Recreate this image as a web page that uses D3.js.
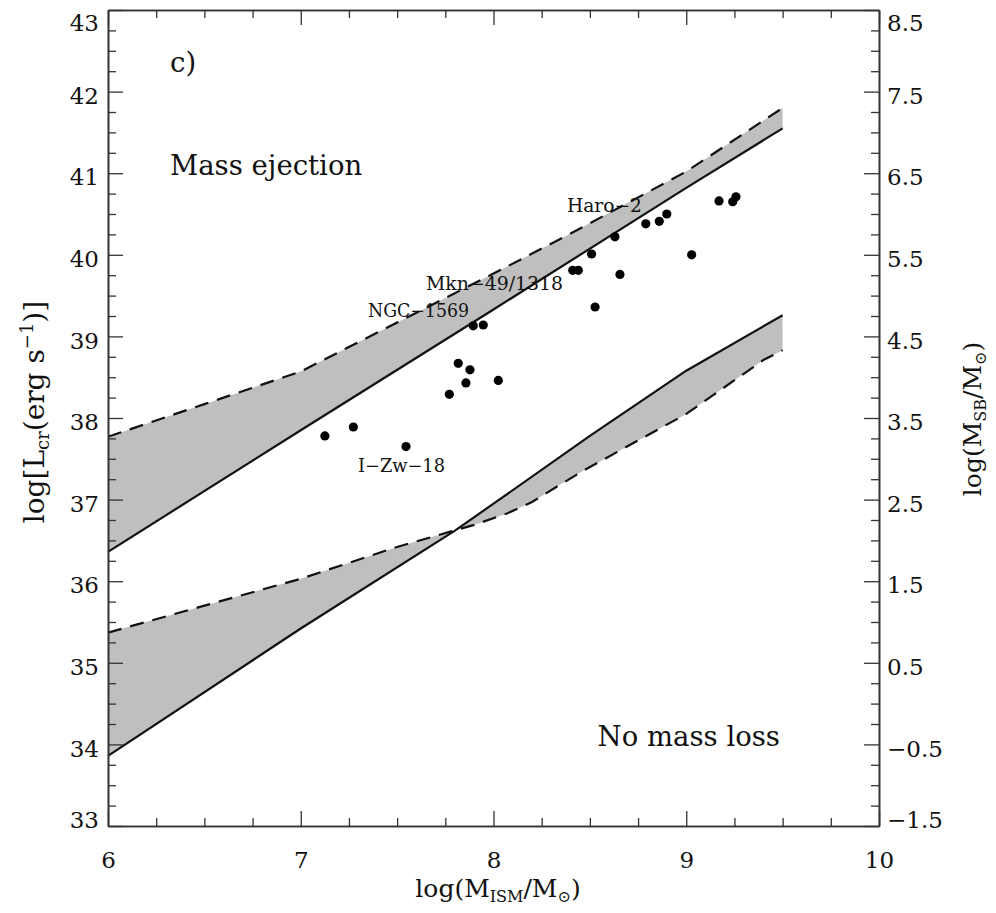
<!DOCTYPE html>
<html><head><meta charset="utf-8">
<script src="https://cdn.jsdelivr.net/npm/d3@7"></script>
<style>
body{margin:0;background:#fff;}
svg{display:block;}
text{font-family:"DejaVu Serif",serif;fill:#111;}
</style></head><body>
<svg id="chart" width="996" height="913"></svg>
<script>
// ---------- data ----------
const xTicks = [6, 7, 8, 9, 10];
const yTicks = [33, 34, 35, 36, 37, 38, 39, 40, 41, 42, 43];
const yRightTicks = [-1.5, -0.5, 0.5, 1.5, 2.5, 3.5, 4.5, 5.5, 6.5, 7.5, 8.5];

const upperSolidX = [6, 7, 8, 9, 9.5];
const upperSolidY = [36.36, 37.85, 39.33, 40.82, 41.55];
const upperDashX = [6, 6.5, 7, 7.5, 8, 8.4, 9, 9.5];
const upperDashY = [37.77, 38.17, 38.57, 39.17, 39.77, 40.26, 41.02, 41.8];
const lowerSolidX = [6, 7, 7.8, 8, 8.5, 9, 9.5];
const lowerSolidY = [33.86, 35.42, 36.62, 36.95, 37.78, 38.58, 39.26];
const lowerDashX = [6, 6.5, 7, 7.5, 7.78, 7.9, 8.07, 8.2, 8.33, 8.47, 9, 9.4, 9.5];
const lowerDashY = [35.37, 35.70, 36.03, 36.42, 36.61, 36.69, 36.83, 36.97, 37.16, 37.36, 38.05, 38.71, 38.83];

const galaxyX = [7.125, 7.273, 7.546, 7.771, 7.817, 7.857, 7.878, 7.895, 7.947, 8.025, 8.411, 8.44, 8.509, 8.527, 8.63, 8.656, 8.79, 8.86, 8.899, 9.028, 9.17, 9.241, 9.258];
const galaxyY = [37.78, 37.89, 37.65, 38.29, 38.67, 38.43, 38.59, 39.13, 39.14, 38.46, 39.81, 39.81, 40.01, 39.36, 40.22, 39.76, 40.38, 40.41, 40.50, 40.00, 40.66, 40.65, 40.71];

const labelText = ["Haro\u22122", "Mkn\u221249/1318", "NGC\u22121569", "I\u2212Zw\u221218"];
const labelX = [8.381, 7.65, 7.349, 7.297];
const labelY = [40.525, 39.569, 39.238, 37.338];

const noteText = ["c)", "Mass ejection", "No mass loss"];
const noteX = [6.322, 6.322, 8.54];
const noteY = [42.24, 40.978, 33.98];

// ---------- chart ----------
const svg = d3.select("#chart");
const x = d3.scaleLinear().domain([6, 10]).range([108, 879]);
const y = d3.scaleLinear().domain([33, 43]).range([826, 10]);
const yR = d3.scaleLinear().domain([-1.5, 8.5]).range([826, 10]);

const zip = (xs, ys) => xs.map((v, i) => [v, ys[i]]);
const line = d3.line().x(d => x(d[0])).y(d => y(d[1]));

function band(solid, dash) {
  const pts = solid.concat(dash.slice().reverse());
  return line(pts) + "Z";
}
const uS = zip(upperSolidX, upperSolidY), uD = zip(upperDashX, upperDashY);
const lS = zip(lowerSolidX, lowerSolidY), lD = zip(lowerDashX, lowerDashY);

svg.append("path").attr("d", band(uS, uD)).attr("fill", "#bfbfbf").attr("stroke", "none");
svg.append("path").attr("d", band(lS, lD)).attr("fill", "#bfbfbf").attr("stroke", "none");

[uS, lS].forEach(p => svg.append("path").attr("d", line(p)).attr("fill", "none")
  .attr("stroke", "#111").attr("stroke-width", 2.2));
[uD, lD].forEach(p => svg.append("path").attr("d", line(p)).attr("fill", "none")
  .attr("stroke", "#111").attr("stroke-width", 2.2).attr("stroke-dasharray", "14,9"));

svg.append("g").selectAll("circle").data(galaxyX.map((v, i) => [v, galaxyY[i]])).join("circle")
  .attr("cx", d => x(d[0])).attr("cy", d => y(d[1])).attr("r", 4.6).attr("fill", "#000");

const labelW = [75, 137, 101, 87];
svg.append("g").selectAll("text").data(labelText).join("text")
  .attr("x", (d, i) => x(labelX[i])).attr("y", (d, i) => y(labelY[i]))
  .attr("font-size", 18).attr("textLength", (d, i) => labelW[i]).attr("lengthAdjust", "spacingAndGlyphs")
  .text(d => d);

svg.append("g").selectAll("text").data(noteText).join("text")
  .attr("x", (d, i) => x(noteX[i])).attr("y", (d, i) => y(noteY[i]))
  .attr("font-size", 27.5).text(d => d);

// ---------- axes ----------
const minorX = d3.range(6, 10.001, 0.25).filter(v => Math.abs(v - Math.round(v)) > 1e-6);
const minorY = d3.range(33, 43.001, 0.25).filter(v => Math.abs(v - Math.round(v)) > 1e-6);
const minorYR = minorY.map(v => v - 34.5);

function style(g) {
  g.select(".domain").attr("stroke", "#333").attr("stroke-width", 1.6);
  g.selectAll(".tick line").attr("stroke", "#333").attr("stroke-width", 1.3);
  g.selectAll(".tick text").attr("font-family", "DejaVu Serif").attr("font-size", 23).attr("fill", "#111");
}
const yOff = (v, lo, hi) => v === hi ? 20 : (v === lo ? 1 : 11.7);

// left
svg.append("g").attr("transform", `translate(${x(6)},0)`)
  .call(d3.axisLeft(y).tickValues(minorY).tickSize(-8).tickSizeOuter(0).tickFormat(""))
  .call(style);
svg.append("g").attr("transform", `translate(${x(6)},0)`)
  .call(d3.axisLeft(y).tickValues(yTicks).tickSize(-15).tickSizeOuter(0).tickPadding(9).tickFormat(d3.format("d")))
  .call(style)
  .call(g => g.selectAll(".tick text").attr("dy", null).attr("y", d => yOff(d, 33, 43)));
// right
svg.append("g").attr("transform", `translate(${x(10)},0)`)
  .call(d3.axisRight(yR).tickValues(minorYR).tickSize(-8).tickSizeOuter(0).tickFormat(""))
  .call(style);
svg.append("g").attr("transform", `translate(${x(10)},0)`)
  .call(d3.axisRight(yR).tickValues(yRightTicks).tickSize(-15).tickSizeOuter(0).tickPadding(8).tickFormat(d3.format(".1f")))
  .call(style)
  .call(g => g.selectAll(".tick text").attr("dy", null).attr("y", d => yOff(d, -1.5, 8.5)));
// bottom
svg.append("g").attr("transform", `translate(0,${y(33)})`)
  .call(d3.axisBottom(x).tickValues(minorX).tickSize(-8).tickSizeOuter(0).tickFormat(""))
  .call(style);
svg.append("g").attr("transform", `translate(0,${y(33)})`)
  .call(d3.axisBottom(x).tickValues(xTicks).tickSize(-15).tickSizeOuter(0).tickFormat(d3.format("d")))
  .call(style)
  .call(g => g.selectAll(".tick text").attr("dy", null).attr("y", 42));
// top
svg.append("g").attr("transform", `translate(0,${y(43)})`)
  .call(d3.axisTop(x).tickValues(minorX).tickSize(-8).tickSizeOuter(0).tickFormat(""))
  .call(style);
svg.append("g").attr("transform", `translate(0,${y(43)})`)
  .call(d3.axisTop(x).tickValues(xTicks).tickSize(-15).tickSizeOuter(0).tickFormat(""))
  .call(style);

// ---------- titles ----------
const xt = svg.append("text").attr("x", 498).attr("y", 897).attr("text-anchor", "middle").attr("font-size", 25);
xt.append("tspan").text("log(M");
xt.append("tspan").attr("font-size", 16).attr("dy", 5).text("ISM");
xt.append("tspan").attr("dy", -5).text("/M");
xt.append("tspan").attr("font-size", 16).attr("dy", 5).text("\u2299");
xt.append("tspan").attr("dy", -5).text(")");

const lt = svg.append("text").attr("transform", "translate(44,412) rotate(-90)").attr("text-anchor", "middle").attr("font-size", 28);
lt.append("tspan").text("log[L");
lt.append("tspan").attr("font-size", 18).attr("dy", 5).text("cr");
lt.append("tspan").attr("dy", -5).text("(erg s");
lt.append("tspan").attr("font-size", 18).attr("dy", -11).text("\u22121");
lt.append("tspan").attr("dy", 11).text(")]");

const rt = svg.append("text").attr("transform", "translate(981,419) rotate(-90)").attr("text-anchor", "middle").attr("font-size", 25);
rt.append("tspan").text("log(M");
rt.append("tspan").attr("font-size", 16).attr("dy", 5).text("SB");
rt.append("tspan").attr("dy", -5).text("/M");
rt.append("tspan").attr("font-size", 16).attr("dy", 5).text("\u2299");
rt.append("tspan").attr("dy", -5).text(")");
</script>
</body></html>
